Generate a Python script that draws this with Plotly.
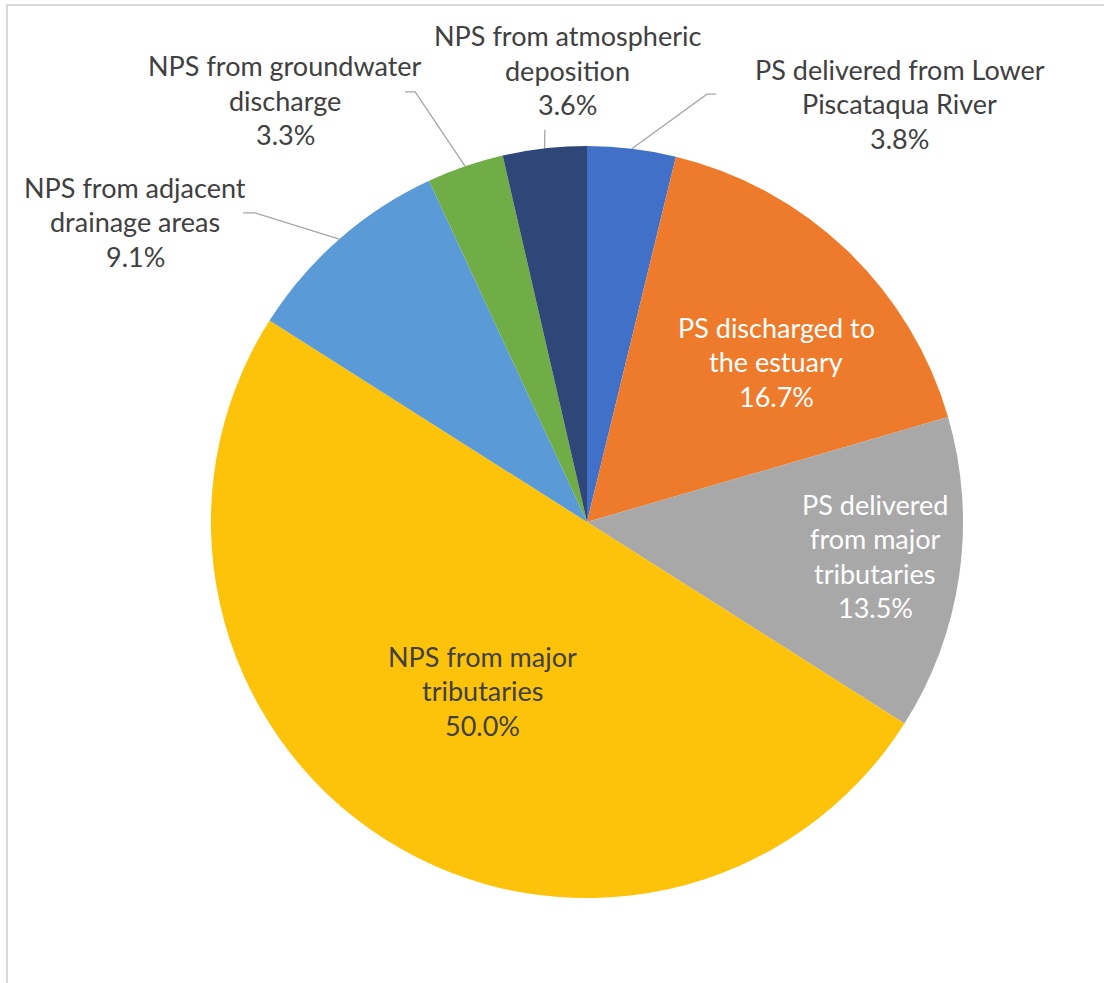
import numpy as np
import plotly.graph_objects as go

# slices, clockwise from 12 o'clock
categories = [
    "PS delivered from Lower Piscataqua River",
    "PS discharged to the estuary",
    "PS delivered from major tributaries",
    "NPS from major tributaries",
    "NPS from adjacent drainage areas",
    "NPS from groundwater discharge",
    "NPS from atmospheric deposition",
]
shares = [3.8, 16.7, 13.5, 50.0, 9.1, 3.3, 3.6]

# how each label wraps in the picture
label_lines = [
    ["PS delivered from Lower", "Piscataqua River"],
    ["PS discharged to", "the estuary"],
    ["PS delivered", "from major", "tributaries"],
    ["NPS from major", "tributaries"],
    ["NPS from adjacent", "drainage areas"],
    ["NPS from groundwater", "discharge"],
    ["NPS from atmospheric", "deposition"],
]

colors = ["#4170C8", "#EE7A2C", "#A8A8A8", "#FDC20A", "#5A9AD6", "#70AD47", "#2F4679"]
text_colors = ["#404040", "white", "white", "#404040", "#404040", "#404040", "#404040"]

# label centres in pie-radius units (x right, y up), leader-line bends
label_pos = [(0.832, 1.112), (0.503, 0.426), (0.766, -0.090), (-0.277, -0.449),
             (-1.202, 0.798), (-0.803, 1.122), (-0.053, 1.202)]
leader_bend = {
    0: [(0.319, 1.138), (0.343, 1.138)],
    4: [(-0.883, 0.822), (-0.915, 0.822)],
    5: [(-0.457, 1.144), (-0.484, 1.144)],
    6: [(-0.112, 1.043)],
}

W, H = 1104, 983
CX, CY, R = 587, 522, 376  # pie centre / radius in px (CY from top)
FONT = "Lato"
FSIZE = 27
LINE_H = 34.5

fig = go.Figure()

fig.add_trace(go.Pie(
    labels=categories,
    values=shares,
    sort=False,
    direction="clockwise",
    rotation=0,
    marker=dict(colors=colors, line=dict(width=0)),
    textinfo="none",
    hoverinfo="label+percent",
    showlegend=False,
    domain=dict(x=[(CX - R) / W, (CX + R) / W], y=[(H - CY - R) / H, (H - CY + R) / H]),
))

# mid angle of each slice, clockwise from the top
vals = np.array(shares, dtype=float)
edges = np.concatenate([[0], np.cumsum(vals)]) / vals.sum() * 2 * np.pi
mids = (edges[:-1] + edges[1:]) / 2

for i, pts in leader_bend.items():
    xs = [np.sin(mids[i])] + [p[0] for p in pts]
    ys = [np.cos(mids[i])] + [p[1] for p in pts]
    fig.add_trace(go.Scatter(
        x=xs, y=ys, mode="lines", line=dict(color="#A6A6A6", width=1.3),
        hoverinfo="skip", showlegend=False,
    ))

annotations = []
for i, (lines, v) in enumerate(zip(label_lines, shares)):
    rows = lines + [f"{v:.1f}%"]
    n = len(rows)
    x, y = label_pos[i]
    for k, row in enumerate(rows):
        annotations.append(dict(
            x=x, y=y, xref="x", yref="y", text=row, showarrow=False,
            xanchor="center", yanchor="middle",
            yshift=((n - 1) / 2 - k) * LINE_H,
            font=dict(family=FONT, size=FSIZE, color=text_colors[i]),
        ))

fig.update_layout(
    width=W, height=H,
    margin=dict(l=0, r=0, t=0, b=0),
    paper_bgcolor="white",
    plot_bgcolor="rgba(0,0,0,0)",
    xaxis=dict(range=[-CX / R, (W - CX) / R], visible=False, fixedrange=True),
    yaxis=dict(range=[-(H - CY) / R, CY / R], visible=False, fixedrange=True),
    annotations=annotations,
    shapes=[dict(type="rect", xref="paper", yref="paper",
                 x0=7 / W, x1=1.02, y0=-0.02, y1=1 - 5 / H,
                 line=dict(color="#D9D9D9", width=2), fillcolor="rgba(0,0,0,0)")],
)

fig.write_html("out.html", config={"displayModeBar": False},
               post_script="document.body.style.margin='0';")
